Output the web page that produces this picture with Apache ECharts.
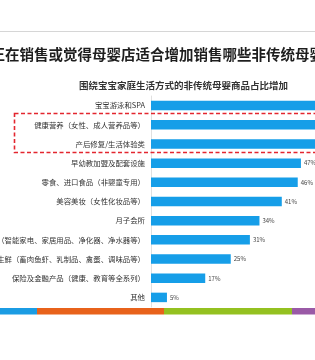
<!DOCTYPE html>
<html>
<head>
<meta charset="utf-8">
<script src="https://cdn.jsdelivr.net/npm/echarts@6/dist/echarts.min.js"></script>
<style>html,body{margin:0;padding:0;background:#fff;}#c{width:315px;height:360px;}</style>
</head>
<body>
<div id="c"></div>
<script>
var titleText = '您正在销售或觉得母婴店适合增加销售哪些非传统母婴商品';
var subtitleText = '围绕宝宝家庭生活方式的非传统母婴商品占比增加';
var categories = [
  '宝宝游泳和SPA',
  '健康营养（女性、成人营养品等）',
  '产后修复/生活体验类',
  '早幼教加盟及配套设施',
  '零食、进口食品（非婴童专用）',
  '美容美妆（女性化妆品等）',
  '月子会所',
  '家电（智能家电、家居用品、净化器、净水器等）',
  '食品生鲜（畜肉鱼虾、乳制品、禽蛋、调味品等）',
  '保险及金融产品（健康、教育等全系列）',
  '其他'
];
var values = [62, 57, 54, 47, 46, 41, 34, 31, 25, 17, 5];
var stripColors = ['#1b9ce3', '#e8621b', '#94c120', '#9a5aa6'];
var stripEdges = [0, 37, 164, 292, 315];

var chart = echarts.init(document.getElementById('c'), null, {renderer: 'canvas'});
var font = '"Noto Sans CJK SC", "Noto Sans", sans-serif';
var graphics = [
  {type: 'line', shape: {x1: 0, y1: 31.5, x2: 315, y2: 31.5}, style: {stroke: '#d6d6d6', lineWidth: 1}},
  {type: 'text', x: -24, y: 54, style: {text: titleText, font: 'bold 14.5px ' + font, fill: '#1e1e1e', textVerticalAlign: 'middle'}},
  {type: 'text', x: 183.5, y: 85.5, style: {text: subtitleText, font: 'bold 9.5px ' + font, fill: '#333', textAlign: 'center', textVerticalAlign: 'middle'}},
  {type: 'rect', shape: {x: 14.5, y: 113.5, width: 330, height: 39}, style: {fill: 'none', stroke: '#e3262f', lineWidth: 1.6, lineDash: [4, 2.5]}, z: 10}
];
for (var i = 0; i < stripColors.length; i++) {
  graphics.push({type: 'rect', shape: {x: stripEdges[i], y: 308, width: stripEdges[i + 1] - stripEdges[i], height: 6.5}, style: {fill: stripColors[i]}});
}

chart.setOption({
  animation: false,
  backgroundColor: '#fff',
  grid: {left: 151, width: 319, top: 96, height: 211, containLabel: false, outerBoundsMode: 'none'},
  xAxis: {type: 'value', min: 0, max: 100, show: false},
  yAxis: {
    type: 'category', data: categories, inverse: true,
    axisTick: {show: false},
    axisLine: {show: true, lineStyle: {color: '#e0e0e0', width: 1}},
    axisLabel: {color: '#333', fontSize: 7.4, fontFamily: font, margin: 6}
  },
  series: [{
    type: 'bar', data: values, barWidth: 9.5,
    itemStyle: {color: '#169ee8'},
    label: {show: true, position: 'right', distance: 3, formatter: '{c}%', fontSize: 6, color: '#444', fontFamily: font}
  }],
  graphic: graphics
});
</script>
</body>
</html>
